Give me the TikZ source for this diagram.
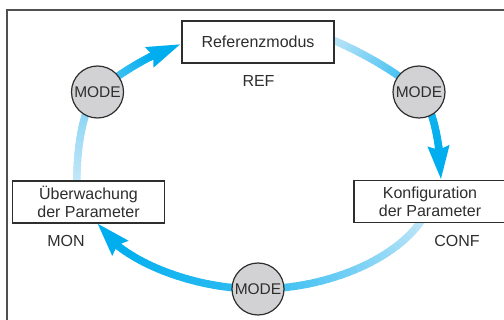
\documentclass[tikz,border=0pt]{standalone}
\usepackage{fontspec}
\setmainfont{Liberation Sans}
\usetikzlibrary{arrows.meta}
\definecolor{cyanA}{HTML}{00AEEF}
\definecolor{lightA}{HTML}{C9E8F8}
\definecolor{inkA}{HTML}{2E2E2E}
\definecolor{modeA}{HTML}{D2D2D4}
\definecolor{frameA}{HTML}{505050}
\tikzset{
  arcline/.style={line width=7.5pt, line cap=round},
  arrowline/.style={line width=7.5pt, draw=cyanA, -{Stealth[length=33pt,width=20pt,inset=3pt]}},
  statebox/.style={draw=inkA, line width=1.3pt, fill=white, minimum width=152pt, minimum height=42pt, inner sep=0pt, align=center, text=inkA, font=\fontsize{16}{18}\selectfont},
  modecirc/.style={circle, draw=inkA, line width=1.2pt, fill=modeA, minimum size=52pt, inner sep=0pt, text=inkA, font=\fontsize{15.5}{18}\selectfont},
  tag/.style={anchor=base, text=inkA, inner sep=0pt, font=\fontsize{16}{18}\selectfont},
  framel/.style={draw=frameA, line width=1.2pt}
}
% #1 P0, #2 C1, #3 C2, #4 P3, #5 start %, #6 end %, #7 end pos
\newcommand\gradcurve[7]{%
  \foreach \i in {1,...,30}{%
    \pgfmathsetmacro\ta{(\i-1)/30*#7}%
    \pgfmathsetmacro\tb{\i/30*#7}%
    \pgfmathtruncatemacro\cc{#5+(#6-#5)*(\i-0.5)/30}%
    \path (#1) .. controls (#2) and (#3) .. (#4) coordinate[pos=\ta] (ga) coordinate[pos=\tb] (gb);
    \draw[arcline, cyanA!\cc!lightA] (ga) -- (gb);
  }%
}
\begin{document}
\begin{tikzpicture}[x=1pt,y=-1pt]
\useasboundingbox (0,0) rectangle (504,320);
% frame
\coordinate (fa) at (7,321);
\coordinate (fb) at (7,10);
\coordinate (fc) at (505,10);
\draw[framel] (fa) -- (fb) -- (fc);

% key points
\coordinate (mr) at (419,92);
\coordinate (mb) at (258,289);
\coordinate (ml) at (97.5,92);

% right arc: REF -> CONF
\coordinate (r0) at (328,38);
\coordinate (r1) at (360,51);
\coordinate (r2) at (397,72);
\coordinate (s1) at (434,106);
\coordinate (s2) at (441,150);
\coordinate (tipR) at (441,180);
\gradcurve{r0}{r1}{r2}{mr}{0}{85}{1}
\gradcurve{mr}{s1}{s2}{tipR}{85}{100}{0.69}
\path (mr) .. controls (s1) and (s2) .. (tipR) coordinate[pos=0.66] (aR);
\draw[arrowline] (aR) -- (tipR);

% bottom arc: CONF -> MON
\coordinate (b0) at (425,215);
\coordinate (b1) at (401,257);
\coordinate (b2) at (330,289);
\coordinate (c1) at (187,289);
\coordinate (c2) at (116,257);
\coordinate (tipB) at (97,223);
\gradcurve{b0}{b1}{b2}{mb}{0}{75}{1}
\gradcurve{mb}{c1}{c2}{tipB}{75}{100}{0.79}
\path (mb) .. controls (c1) and (c2) .. (tipB) coordinate[pos=0.76] (aB);
\draw[arrowline] (aB) -- (tipB);

% left arc: MON -> REF
\coordinate (l0) at (77,186);
\coordinate (l1) at (76,150);
\coordinate (l2) at (83,106);
\coordinate (k1) at (120,72);
\coordinate (k2) at (157,51);
\coordinate (tipL) at (181,44);
\gradcurve{l0}{l1}{l2}{ml}{0}{45}{1}
\gradcurve{ml}{k1}{k2}{tipL}{45}{100}{0.66}
\path (ml) .. controls (k1) and (k2) .. (tipL) coordinate[pos=0.62] (aL);
\draw[arrowline] (aL) -- (tipL);

% boxes
\node[statebox] (ref) at (258,42) {Referenzmodus};
\node[statebox] (mon) at (88.5,202) {Überwachung\\der Parameter};
\node[statebox] (conf) at (430,201.5) {Konfiguration\\der Parameter};

% mode circles
\node[modecirc] (modeR) at (mr) {MODE};
\node[modecirc] (modeB) at (mb) {MODE};
\node[modecirc] (modeL) at (ml) {MODE};

% labels
\node[tag] (reft) at (258.5,87) {REF};
\node[tag] (mont) at (66,247) {MON};
\node[tag] (conft) at (457,247) {CONF};
\end{tikzpicture}
\end{document}
